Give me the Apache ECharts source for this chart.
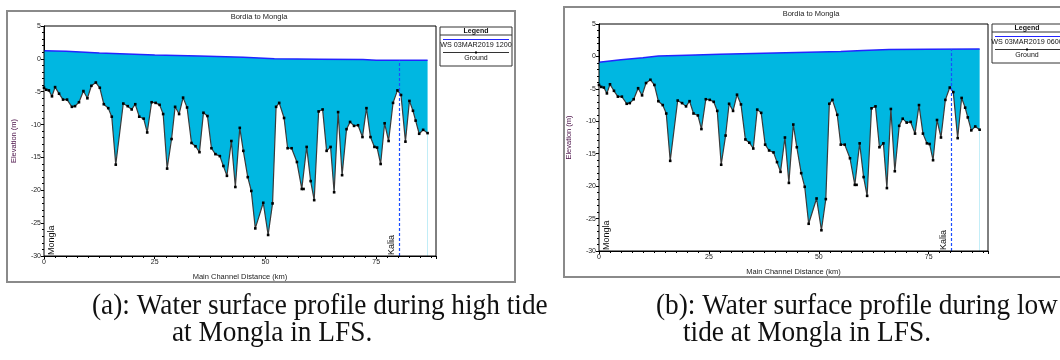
<!DOCTYPE html>
<html><head><meta charset="utf-8">
<script src="https://cdn.jsdelivr.net/npm/echarts@6/dist/echarts.min.js"></script>
<style>html,body{margin:0;padding:0;background:#fff}#c{width:1060px;height:360px}</style>
</head><body><div id="c"></div>
<script>
// ---- data ----
const distanceKm = [0,0.5,1.1,1.8,2.5,3.4,4.3,5.2,6.3,7.0,7.9,8.9,9.8,10.7,11.7,12.6,13.5,14.5,15.3,16.2,17.9,18.9,19.8,20.6,21.5,22.5,23.3,24.3,25.2,26.1,26.9,27.8,28.8,29.6,30.5,31.4,32.3,33.3,34.2,35.1,36.0,36.9,37.8,38.7,39.7,40.5,41.3,42.3,43.2,44.2,45.0,46.0,46.8,47.7,49.5,50.6,51.6,52.4,53.1,54.2,55.0,55.9,57.1,58.2,58.6,59.3,60.2,61.0,62.0,62.9,63.8,64.7,65.5,66.4,67.3,68.3,69.1,70.0,70.9,71.9,72.8,73.7,74.6,75.2,76.0,76.9,77.8,78.8,79.8,80.6,81.6,82.5,83.3,83.9,84.7,85.6,86.6];
const groundElev = [-4.4,-4.7,-4.8,-5.7,-4.3,-5.3,-6.2,-6.2,-7.3,-7.2,-6.6,-4.9,-6.0,-4.1,-3.6,-4.4,-6.9,-7.5,-8.8,-16.1,-6.8,-7.2,-7.7,-6.9,-8.8,-9.1,-11.2,-6.6,-6.7,-7.0,-8.4,-16.7,-12.2,-7.3,-8.4,-5.9,-7.4,-12.8,-13.3,-14.2,-8.2,-8.7,-13.6,-14.5,-14.8,-16.3,-17.8,-12.5,-19.5,-10.5,-14.0,-18.0,-20.1,-25.8,-21.9,-26.8,-22.0,-7.3,-6.7,-9.0,-13.6,-13.6,-15.7,-19.8,-19.8,-13.4,-18.6,-21.5,-8.0,-7.7,-14.0,-13.4,-20.3,-8.1,-17.7,-10.7,-9.6,-10.2,-10.1,-11.9,-7.5,-11.9,-13.4,-13.5,-16.0,-9.8,-12.5,-6.7,-4.8,-5.5,-12.6,-6.4,-7.9,-9.4,-11.4,-10.8,-11.3];
// water surface, high tide at Mongla (a)
const wsHighKm = [0,5,12.5,25,35,45,52,62,72,75,86.6];
const wsHighElev = [1.25,1.15,0.9,0.6,0.45,0.25,0.0,-0.05,-0.1,-0.2,-0.2];
// water surface, low tide at Mongla (b)
const wsLowKm = [0,5,10,13.5,20,27.5,35,45,55,60,66,75,86.6];
const wsLowElev = [-0.9,-0.5,-0.2,0.05,0.2,0.35,0.45,0.6,0.75,0.9,1.05,1.1,1.15];
const kaliaKm = 80.1;
const xTickLabels = [0,25,50,75];
const yTickLabels = [-30,-25,-20,-15,-10,-5,0,5];
const chartTitle = 'Bordia to Mongla';
const wsLegend = ['WS 03MAR2019 1200','WS 03MAR2019 0600'];
const captionsA = ['(a): Water surface profile during high tide','at Mongla in LFS.'];
const captionsB = ['(b): Water surface profile during low','tide at Mongla in LFS.'];

// ---- layout ----
const panels = [
  {grid:{left:44,top:26,width:392,height:230}, frame:[7,11,508,271], legend:[440,27,72,39], titleX:259, titleY:17, ws:[wsHighKm,wsHighElev], lg:wsLegend[0]},
  {grid:{left:599,top:24,width:389,height:227}, frame:[564,7,520,270], legend:[992,24,80,39], titleX:811, titleY:14, ws:[wsLowKm,wsLowElev], lg:wsLegend[1]}
];
const CYAN = '#00b7e1';
const SANS = '"Liberation Sans", Arial, sans-serif';

function interp(xs, ys, x){
  for (let i=1;i<xs.length;i++){ if (x<=xs[i]){ const t=(x-xs[i-1])/(xs[i]-xs[i-1]); return ys[i-1]+t*(ys[i]-ys[i-1]); } }
  return ys[ys.length-1];
}

const grids=[], xAxes=[], yAxes=[], series=[], graphics=[];
panels.forEach((p,i)=>{
  grids.push(Object.assign({show:true, borderColor:'#000', borderWidth:1, backgroundColor:'transparent', z:10}, p.grid));
  xAxes.push({type:'value', gridIndex:i, min:0, max:88.5, interval:25,
    name:'Main Channel Distance (km)', nameLocation:'middle', nameGap:17,
    nameTextStyle:{fontSize:7.5, color:'#222', fontFamily:SANS},
    axisLine:{show:true, onZero:false, lineStyle:{color:'#000', width:1}},
    axisTick:{show:true, length:3, lineStyle:{color:'#000'}},
    minorTick:{show:true, splitNumber:10, length:2, lineStyle:{color:'#000'}},
    splitLine:{show:false},
    axisLabel:{fontSize:7, color:'#222', fontFamily:SANS, margin:3, showMaxLabel:false,
      formatter:v=> xTickLabels.includes(v)? String(v):''}
  });
  yAxes.push({type:'value', gridIndex:i, min:-30, max:5, interval:5,
    name:'Elevation (m)', nameLocation:'middle', nameGap:26, nameRotate:90,
    nameTextStyle:{fontSize:7.5, color:'#4a1048', fontFamily:SANS},
    axisLine:{show:true, onZero:false, lineStyle:{color:'#000', width:1}},
    axisTick:{show:true, length:3, lineStyle:{color:'#000'}},
    minorTick:{show:true, splitNumber:5, length:2, lineStyle:{color:'#000'}},
    splitLine:{show:false},
    axisLabel:{fontSize:7, color:'#222', fontFamily:SANS, margin:3,
      formatter:v=> yTickLabels.includes(v)? String(v):''}
  });
  const wsX=p.ws[0], wsY=p.ws[1];
  series.push({type:'line', xAxisIndex:i, yAxisIndex:i, z:2, symbol:'none', animation:false,
    data: wsX.map((x,k)=>[x, wsY[k]]),
    lineStyle:{color:'#2424ff', width:1.5},
    areaStyle:{color:CYAN, origin:'start', opacity:1},
    markLine:{silent:true, symbol:'none', animation:false,
      lineStyle:{color:'rgba(0,0,0,0)', width:0},
      label:{show:true, formatter:'Mongla', position:'insideStartBottom', distance:[1,3], fontSize:9, color:'#111', fontFamily:SANS},
      data:[[{coord:[0,-30]},{coord:[0,5]}]]}
  });
  series.push({type:'line', xAxisIndex:i, yAxisIndex:i, z:3, animation:false,
    symbol:'rect', symbolSize:2.6, itemStyle:{color:'#000'},
    data: distanceKm.map((x,k)=>[x, groundElev[k]]),
    lineStyle:{color:'#3a3a3a', width:1.2},
    areaStyle:{color:'#fff', origin:'start', opacity:1},
    markLine:{silent:true, symbol:'none', animation:false,
      lineStyle:{color:'#1a4dff', type:[3,2], width:1.2},
      label:{show:true, formatter:'Kalia', position:'insideStartTop', distance:[1,3], fontSize:9, color:'#111', fontFamily:SANS},
      data:[[{coord:[kaliaKm,-30]},{coord:[kaliaKm, interp(wsX, wsY, kaliaKm)]}]]}
  });
  // outer frame
  graphics.push({type:'rect', shape:{x:p.frame[0], y:p.frame[1], width:p.frame[2], height:p.frame[3]}, style:{fill:'none', stroke:'#8a8a8a', lineWidth:2}, z:-1});
  // title
  graphics.push({type:'text', x:p.titleX, y:p.titleY, style:{text:chartTitle, fontSize:7.5, fontFamily:SANS, fill:'#222', align:'center', verticalAlign:'middle', textAlign:'center', textVerticalAlign:'middle'}});
  // legend box
  const [lx,ly,lw,lh]=p.legend;
  graphics.push({type:'rect', shape:{x:lx,y:ly,width:lw,height:lh}, style:{fill:'#fff', stroke:'#333', lineWidth:1}});
  graphics.push({type:'line', shape:{x1:lx,y1:ly+8,x2:lx+lw,y2:ly+8}, style:{stroke:'#333', lineWidth:1}});
  const cx = i===0? lx+lw/2 : lx+35;
  graphics.push({type:'text', x:cx, y:ly+4.5, style:{text:'Legend', fontSize:7, fontWeight:'bold', fontFamily:SANS, fill:'#111', align:'center', verticalAlign:'middle', textAlign:'center', textVerticalAlign:'middle'}});
  graphics.push({type:'line', shape:{x1:lx+3,y1:ly+12.5,x2:lx+lw-3,y2:ly+12.5}, style:{stroke:'#2424ff', lineWidth:1}});
  graphics.push({type:'text', x:cx, y:ly+18.5, style:{text:p.lg, fontSize:7.2, fontFamily:SANS, fill:'#111', align:'center', verticalAlign:'middle', textAlign:'center', textVerticalAlign:'middle'}});
  graphics.push({type:'line', shape:{x1:lx+3,y1:ly+25.5,x2:lx+lw-3,y2:ly+25.5}, style:{stroke:'#333', lineWidth:1}});
  graphics.push({type:'rect', shape:{x:cx-1,y:ly+24.5,width:2,height:2}, style:{fill:'#000'}});
  graphics.push({type:'text', x:cx, y:ly+31.5, style:{text:'Ground', fontSize:7, fontFamily:SANS, fill:'#111', align:'center', verticalAlign:'middle', textAlign:'center', textVerticalAlign:'middle'}});
});
// captions
const SERIF = '"Liberation Serif", "Times New Roman", serif';
function cap(text,x,y){ return {type:'text', x:x, y:y, scaleX:0.91, style:{text:text, fontSize:30, fontFamily:SERIF, fill:'#111', align:'left', verticalAlign:'middle', textAlign:'left', textVerticalAlign:'middle'}}; }
graphics.push(cap(captionsA[0],92,306));
graphics.push(cap(captionsA[1],172,333));
graphics.push(cap(captionsB[0],656,306));
graphics.push(cap(captionsB[1],683,333));

const chart = echarts.init(document.getElementById('c'), null, {renderer:'canvas'});
chart.setOption({animation:false, backgroundColor:'#fff', grid:grids, xAxis:xAxes, yAxis:yAxes, series:series, graphic:graphics});
</script></body></html>
